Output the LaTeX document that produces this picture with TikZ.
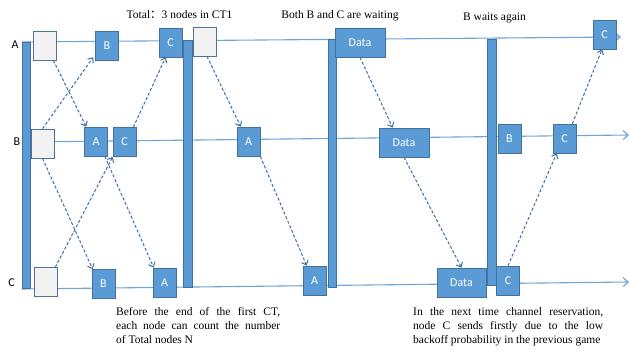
\documentclass[tikz,border=0pt]{standalone}
\usepackage{fontspec}
\setmainfont{Liberation Serif}
\newfontfamily\calfont{Carlito}
\newfontfamily\cjkfont{Noto Sans CJK SC}
\usetikzlibrary{arrows.meta,calc}
\definecolor{boxblue}{HTML}{5B9BD5}
\definecolor{boxedge}{HTML}{41719C}
\definecolor{grayfill}{HTML}{F2F2F2}
\definecolor{linecol}{HTML}{6FA5D8}
\definecolor{dashcol}{HTML}{3D6FA6}
\begin{document}
\begin{tikzpicture}[x=1pt,y=-1pt,
 tline/.style={draw=linecol,line width=1.1pt,-{Straight Barb[length=5pt,width=9pt]}},
 bar/.style={draw=boxedge,fill=boxblue,line width=0.6pt,minimum width=8pt,inner sep=0pt},
 pkt/.style={draw=boxedge,fill=boxblue,line width=0.7pt,minimum width=23pt,minimum height=29pt,inner sep=0pt,text=white,font=\calfont\fontsize{12}{12}\selectfont},
 blank/.style={draw=boxedge!80!gray,fill=grayfill,line width=0.7pt,minimum width=23pt,minimum height=29pt,inner sep=0pt},
 dat/.style={pkt,minimum width=50pt},
 msg/.style={draw=dashcol,line width=1pt,dash pattern=on 3pt off 2pt,-{Straight Barb[length=4pt,width=7pt]}},
 lab/.style={font=\calfont\fontsize{12}{12}\selectfont,inner sep=0pt},
 note/.style={font=\fontsize{11.5}{14}\selectfont,inner sep=0pt,anchor=base west},
 ttl/.style={font=\fontsize{11.5}{14}\selectfont,inner sep=0pt,anchor=base}
]
\useasboundingbox (0,0) rectangle (630,352);
\fill[white] (0,0) rectangle (630,352);

% timelines
\coordinate (As) at (22,42);  \coordinate (Ae) at (621,37);
\coordinate (Bs) at (28,142); \coordinate (Be) at (629,135);
\coordinate (Cs) at (22,289); \coordinate (Ce) at (629,282);
\draw[tline] (As) -- (Ae);
\draw[tline] (Bs) -- (Be);
\draw[tline] (Cs) -- (Ce);

% labels
\node[lab] (labA) at (15,45) {A};
\node[lab] (labB) at (17,141.5) {B};
\node[lab] (labC) at (11.5,282.5) {C};

% bars
\node[bar,minimum height=246pt] (bar1) at (26,165) {};
\node[bar,minimum height=247pt,minimum width=9pt] (bar2) at (187.5,163.5) {};
\node[bar,minimum height=248pt] (bar3) at (332,163) {};
\node[bar,minimum height=246pt,minimum width=9pt] (bar4) at (491.5,162) {};

% row A
\node[blank] (gA1) at (44.5,45.5) {};
\node[pkt] (bA) at (107,45.5) {B};
\node[pkt] (cA) at (170.5,42.5) {C};
\node[blank] (gA2) at (204.5,41.5) {};
\node[dat] (dA) at (360,42.5) {Data};
\node[pkt] (cA2) at (604.5,34.5) {C};

% row B
\node[blank] (gB) at (42.5,143.5) {};
\node[pkt] (aB) at (96,141.5) {A};
\node[pkt] (cB) at (124.5,142) {C};
\node[pkt] (aB2) at (248.5,141.5) {A};
\node[dat] (dB) at (404,142.5) {Data};
\node[pkt] (bB) at (509.5,138.5) {B};
\node[pkt] (cB2) at (564.5,138.5) {C};

% row C
\node[blank] (gC) at (45.5,282) {};
\node[pkt] (bC) at (103.5,284) {B};
\node[pkt] (aC) at (164.5,282.5) {A};
\node[pkt] (aC2) at (314.5,280.5) {A};
\node[dat,minimum width=49pt] (dC) at (461.5,282.5) {Data};
\node[pkt] (cC) at (508,280.5) {C};

% messages
\draw[msg] ($(gA1.south east)+(-3,0)$) -- ($(aB.north west)+(2,0)$);
\draw[msg] (gB.north) -- ($(bA.south west)+(-2,-3)$);
\draw[msg] ($(cB.north east)+(-3,0)$) -- ($(cA.south west)+(7,0)$);
\draw[msg] (gB.south) -- ($(bC.north west)+(1,0)$);
\draw[msg] ($(aB.south east)+(-3,0)$) -- ($(aC.north west)+(1,0)$);
\draw[msg] ($(gC.north east)+(-2,0)$) -- (cB.south west);
\draw[msg] ($(gA2.south)+(2.5,0)$) -- ($(aB2.north west)+(4,0)$);
\draw[msg] (aB2.south east) -- ($(aC2.north west)+(4,0)$);
\draw[msg] (dA.south) -- ($(dB.north west)+(14,0)$);
\draw[msg] (dB.south) -- (dC.north);
\draw[msg] (cC.north) -- ($(cB2.south west)+(4,0)$);
\draw[msg] ($(cB2.north east)+(-4,0)$) -- ($(cA2.south)+(-2.5,0)$);

% titles
\node[ttl] (t1) at (179.5,18.5) {Total{\cjkfont ：}3 nodes in CT1};
\node[ttl] (t2) at (340,19) {Both B and C are waiting};
\node[ttl] (t3) at (494.5,21) {B waits again};

% notes
\node[note] (n1) at (116,316) {\makebox[164pt][s]{Before the end of the first CT,}};
\node[note] (n2) at (116,330) {\makebox[164pt][s]{each node can count the number}};
\node[note] (n3) at (116,344) {of Total nodes N};
\node[note] (m1) at (413,316) {\makebox[190pt][s]{In the next time channel reservation,}};
\node[note] (m2) at (413,330) {\makebox[190pt][s]{node C sends firstly due to the low}};
\node[note] (m3) at (413,344) {backoff probability in the previous game};
\end{tikzpicture}
\end{document}
